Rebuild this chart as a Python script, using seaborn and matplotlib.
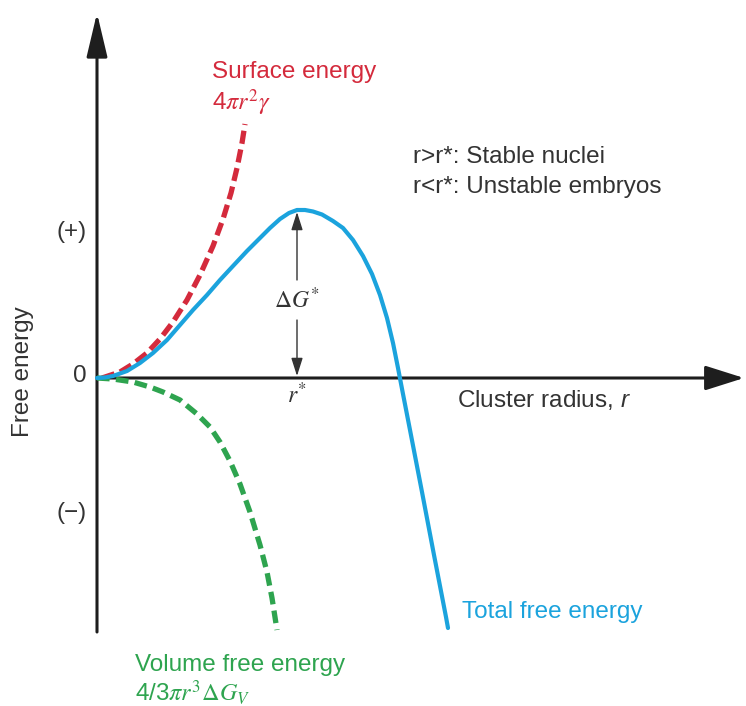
import matplotlib
matplotlib.use("Agg")
import matplotlib.pyplot as plt
import pandas as pd
import seaborn as sns

# curves (radius, free energy) in arbitrary units
total_r = [0, 8, 16, 30, 43, 56, 70, 83, 96, 110, 123, 136, 150, 163, 173, 183,
           192, 200, 208, 216, 225, 236, 246, 256, 266, 275, 283, 290, 296, 301,
           306, 313, 325, 337, 349, 351]
total_g = [0, 0.5, 2, 7, 15, 25, 38, 53, 68, 83, 98, 112, 127, 140, 150, 159,
           165, 168, 168, 166.5, 163.5, 157, 150, 138, 122, 104, 83, 60, 35, 10,
           -16, -52, -114, -177, -239, -250]

surface_r = [5, 23, 36, 50, 63, 76, 90, 103, 116, 126, 134, 140, 145, 148]
surface_g = [0, 6, 14, 25, 39, 56, 78, 103, 132, 159, 185, 210, 235, 254]

volume_r = [0, 16, 36, 53, 66, 83, 100, 113, 123, 133, 143, 153, 163, 170, 175, 180]
volume_g = [0, -1, -4, -9, -14, -22, -36, -49, -64, -83, -106, -134, -167, -194, -220, -252]

r_star = 200
dg_star = 168

blue = "#1ba3dd"
red = "#d42a3c"
green = "#2ea44f"
ink = "#1e1e1e"

sns.set_theme(style="white")
plt.rcParams['font.family'] = ['Liberation Sans', 'DejaVu Sans']
plt.rcParams['mathtext.fontset'] = 'custom'
plt.rcParams['mathtext.rm'] = 'Liberation Sans'
plt.rcParams['mathtext.it'] = 'Liberation Sans:italic'

fig = plt.figure(figsize=(7.46, 7.06), dpi=100)
ax = fig.add_axes([0, 0, 1, 1])
ax.set_xlim(-97, 649)
ax.set_ylim(-328, 378)
ax.axis('off')

total = pd.DataFrame({'r': total_r, 'G': total_g})
surface = pd.DataFrame({'r': surface_r, 'G': surface_g})
volume = pd.DataFrame({'r': volume_r, 'G': volume_g})

sns.lineplot(data=surface, x='r', y='G', sort=False, estimator=None, ax=ax,
             color=red, lw=3.8, linestyle=(0, (2.5, 1.1)), zorder=3)
sns.lineplot(data=volume, x='r', y='G', sort=False, estimator=None, ax=ax,
             color=green, lw=3.8, linestyle=(0, (2.4, 1.2)), zorder=3)
sns.lineplot(data=total, x='r', y='G', sort=False, estimator=None, ax=ax,
             color=blue, lw=3.0, zorder=4)

# axes with arrow heads
ax.annotate('', xy=(0, 365), xytext=(0, -254),
            arrowprops=dict(arrowstyle='-|>,head_length=1.35,head_width=0.32',
                            lw=2.2, color=ink, shrinkA=0, shrinkB=0,
                            mutation_scale=20), zorder=2)
ax.annotate('', xy=(647, 0), xytext=(0, 0),
            arrowprops=dict(arrowstyle='-|>,head_length=1.2,head_width=0.38',
                            lw=2.2, color=ink, shrinkA=0, shrinkB=0,
                            mutation_scale=20), zorder=2)

# delta G* double arrow
ax.annotate('', xy=(r_star, dg_star - 2), xytext=(r_star, 98),
            arrowprops=dict(arrowstyle='-|>,head_length=1.1,head_width=0.35',
                            lw=1.0, color='#333333', shrinkA=0, shrinkB=0,
                            mutation_scale=10))
ax.annotate('', xy=(r_star, 2), xytext=(r_star, 58),
            arrowprops=dict(arrowstyle='-|>,head_length=1.1,head_width=0.35',
                            lw=1.0, color='#333333', shrinkA=0, shrinkB=0,
                            mutation_scale=10))
ax.text(r_star, 78, r'$\Delta G^{*}$', math_fontfamily='stix', fontsize=17,
        color='#333333', ha='center', va='center')
ax.text(r_star, -17, r'$r^{*}$', math_fontfamily='stix', fontsize=17,
        color='#333333', ha='center', va='center')

fs = 17.5
ax.text(360, -22, r'Cluster radius, $r$', fontsize=fs, color='#333333',
        ha='left', va='center')
ax.text(-17, 2, '0', fontsize=fs, color='#333333', ha='center', va='center')
ax.text(-10, 146, '(+)', fontsize=fs, color='#333333', ha='right', va='center')
ax.text(-10, -135, '(\u2212)', fontsize=fs, color='#333333', ha='right', va='center')
ax.text(-74, 6, 'Free energy', fontsize=fs, color='#333333', rotation=90,
        ha='center', va='center')

ax.text(115, 306, 'Surface energy', fontsize=fs, color=red, ha='left', va='center')
ax.text(115, 275, r'4$\pi r^2\gamma$', math_fontfamily='stix', fontsize=fs,
        color=red, ha='left', va='center')

ax.text(316, 221, 'r>r*: Stable nuclei', fontsize=fs, color='#333333',
        ha='left', va='center')
ax.text(316, 191, 'r<r*: Unstable embryos', fontsize=fs, color='#333333',
        ha='left', va='center')

ax.text(365, -234, 'Total free energy', fontsize=fs, color=blue,
        ha='left', va='center')

ax.text(38, -287, 'Volume free energy', fontsize=fs, color=green,
        ha='left', va='center')
ax.text(38, -315, r'4/3$\pi r^3\Delta G_V$', math_fontfamily='stix', fontsize=fs,
        color=green, ha='left', va='center')

fig.savefig('out.png', dpi=100, facecolor='white')
